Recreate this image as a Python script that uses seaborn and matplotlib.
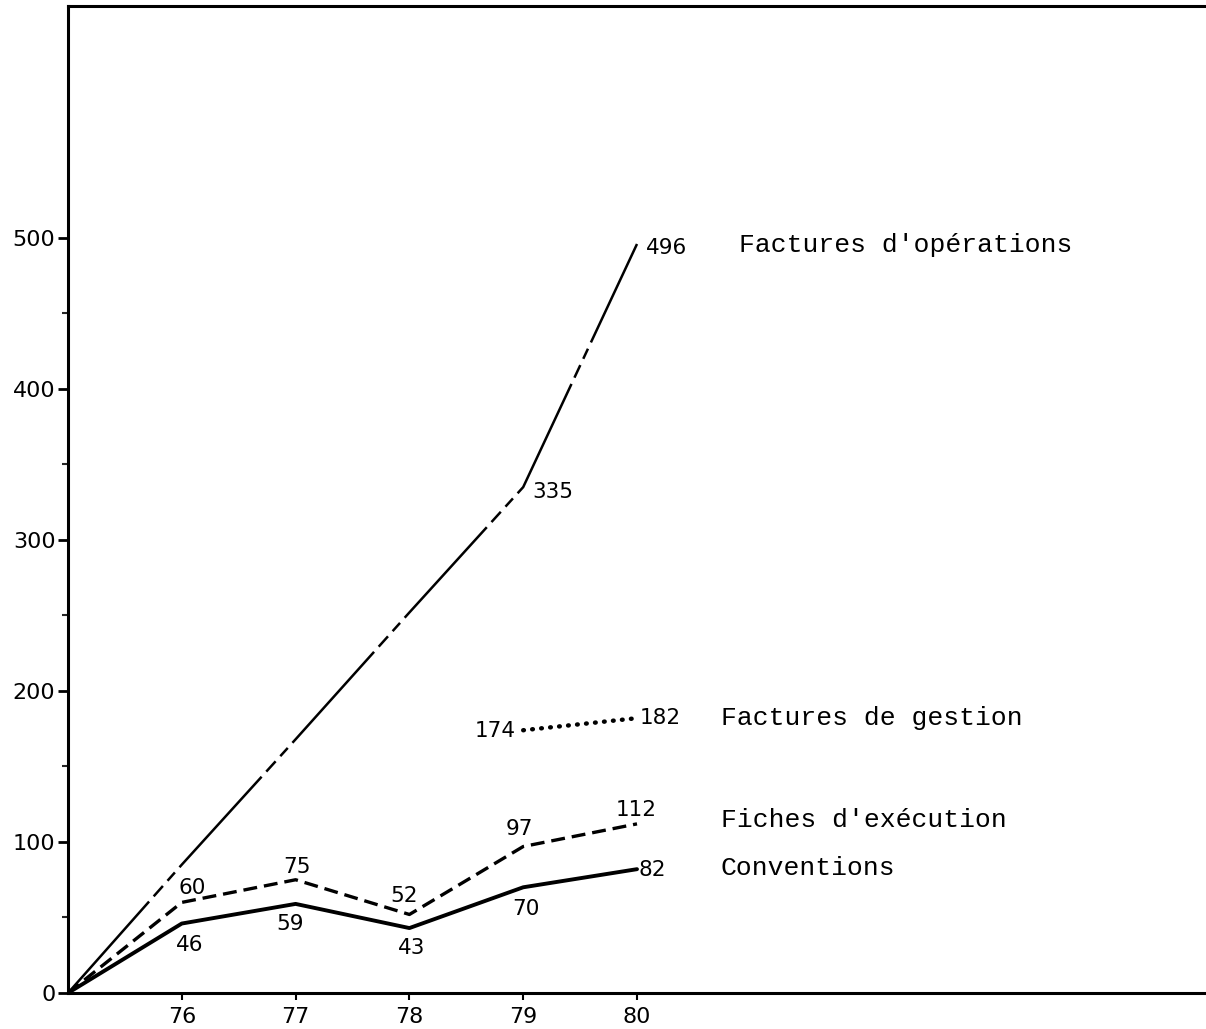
import matplotlib
matplotlib.use("Agg")
import matplotlib.pyplot as plt
from matplotlib.ticker import FixedLocator
import seaborn as sns

# ---- data ----
years = [75, 76, 77, 78, 79, 80]
operations = [0, 85, 168, 252, 335, 496]
fiches = [0, 60, 75, 52, 97, 112]
conventions = [0, 46, 59, 43, 70, 82]
gestion_years = [79, 80]
gestion = [174, 182]
xtick_years = [76, 77, 78, 79, 80]
ytick_values = [0, 100, 200, 300, 400, 500]
series_names = ["Factures d'opérations", "Factures de gestion",
                "Fiches d'exécution", "Conventions"]

sns.set_theme(style="white")
plt.rcParams['font.family'] = ['DejaVu Sans']
plt.rcParams['lines.scale_dashes'] = False

fig = plt.figure(figsize=(12.06, 10.29), dpi=100)
ax = fig.add_axes([68 / 1206, 1 - 993 / 1029, 1 - 68 / 1206, (993 - 6) / 1029])

# lines
sns.lineplot(x=years, y=operations, ax=ax, color='black', linewidth=1.8)
ax.lines[-1].set_dashes((88, 5, 10, 5, 8, 5))
sns.lineplot(x=years, y=fiches, ax=ax, color='black', linewidth=2.4)
ax.lines[-1].set_dashes((10, 5))
sns.lineplot(x=years, y=conventions, ax=ax, color='black', linewidth=2.8)
sns.lineplot(x=gestion_years, y=gestion, ax=ax, color='black', linewidth=3.2)
ax.lines[-1].set_dashes((0.5, 6))
ax.lines[-1].set_dash_capstyle('round')

ax.set_xlim(75, 85)
ax.set_ylim(0, 653.6)

numfont = dict(fontsize=15.5, color='black', family='DejaVu Sans')

def lab(x, y, text, dx, dy, ha='center', va='center', **kw):
    ax.annotate(text, xy=(x, y), xytext=(dx, dy), textcoords='offset pixels',
                ha=ha, va=va, **kw)

# Operations value labels
lab(years[4], operations[4], str(operations[4]), 9, -5, ha='left', **numfont)
lab(years[5], operations[5], str(operations[5]), 9, -4, ha='left', **numfont)

# Fiches labels (above)
fiche_off = [(10, 14), (1, 13), (-5, 18), (-4, 18), (-1, 14)]
for i, (dx, dy) in enumerate(fiche_off):
    lab(years[i + 1], fiches[i + 1], str(fiches[i + 1]), dx, dy, **numfont)

# Conventions labels (below, last to the right)
conv_off = [(8, -21), (-6, -20), (2, -20), (3, -22)]
for i, (dx, dy) in enumerate(conv_off):
    lab(years[i + 1], conventions[i + 1], str(conventions[i + 1]), dx, dy, **numfont)
lab(years[5], conventions[5], str(conventions[5]), 2, -1, ha='left', **numfont)

# Gestion labels
lab(gestion_years[0], gestion[0], str(gestion[0]), -7, -1, ha='right', **numfont)
lab(gestion_years[1], gestion[1], str(gestion[1]), 3, 0, ha='left', **numfont)

# Series names
namefont = dict(fontsize=19, color='black', family='Liberation Mono')
lab(years[5], operations[5], series_names[0], 102, -1, ha='left', **namefont)
lab(gestion_years[1], gestion[1], series_names[1], 84, 0, ha='left', **namefont)
lab(years[5], fiches[5], series_names[2], 84, 4, ha='left', **namefont)
lab(years[5], conventions[5], series_names[3], 84, 1, ha='left', **namefont)

# ticks
ax.xaxis.set_major_locator(FixedLocator(xtick_years))
ax.set_xticklabels([str(v) for v in xtick_years])
ax.yaxis.set_major_locator(FixedLocator(ytick_values))
ax.set_yticklabels([str(v) for v in ytick_values])
ax.yaxis.set_minor_locator(FixedLocator([50, 150, 250, 350, 450]))
ax.tick_params(axis='y', which='major', direction='out', length=7, width=2,
               pad=2, labelsize=16, colors='black', left=True)
ax.tick_params(axis='y', which='minor', direction='out', length=4, width=1.5,
               left=True)
ax.tick_params(axis='x', which='major', direction='out', length=5, width=1.5,
               pad=5, labelsize=16, colors='black', bottom=True)
ax.set_xlabel('')
ax.set_ylabel('')

for side in ['left', 'bottom', 'top']:
    ax.spines[side].set_visible(True)
    ax.spines[side].set_color('black')
    ax.spines[side].set_linewidth(2.2)
ax.spines['right'].set_visible(False)
ax.grid(False)

fig.savefig('out.png', dpi=100)
